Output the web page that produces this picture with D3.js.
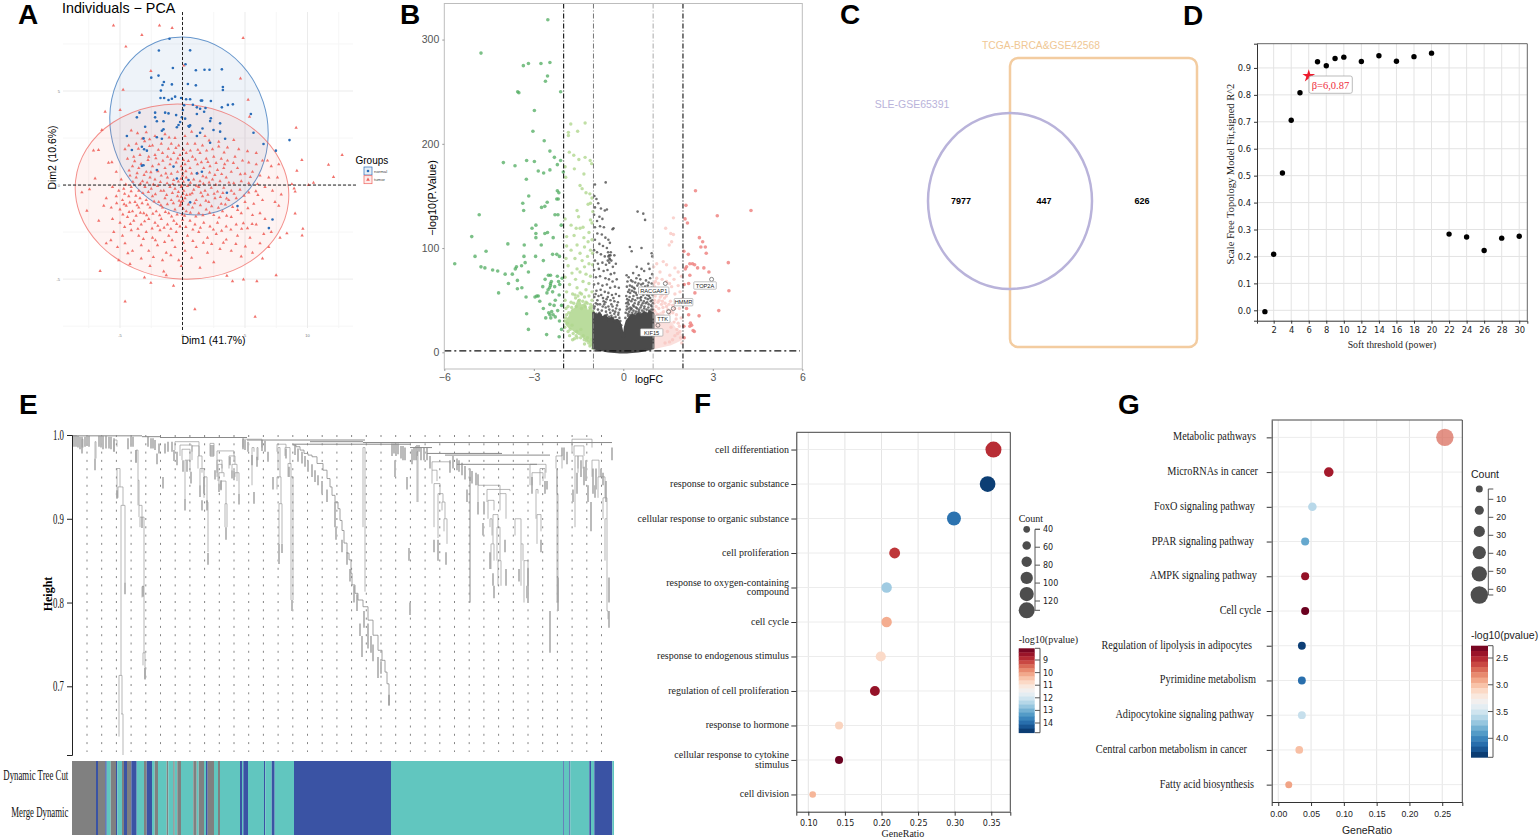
<!DOCTYPE html>
<html>
<head>
<meta charset="utf-8">
<script src="https://cdnjs.cloudflare.com/ajax/libs/d3/7.8.5/d3.min.js"></script>
<style>
html, body { margin: 0; padding: 0; background: #fff; }
svg { display: block; }
</style>
</head>
<body>
<script>
var SANS = "'Liberation Sans', Arial, sans-serif",
		SERIF = "'Liberation Serif', 'Times New Roman', serif",
		DEJAVU = "'DejaVu Sans', sans-serif";

// A - PCA, [Dim1, Dim2]
var pcaNormal = [[-1.04,7.78],[-1.89,7.15],[.61,7.16],[.24,6.42],[-.77,6.22],[1.07,6.1],[1.76,6.13],[2.16,6.13],[3.15,6.15],[-2.5,5.71],[-1.92,5.82],[-1.49,5.48],[-1.6,5.32],[-.85,5.35],[.43,5.37],[1.07,5.3],[-1.73,5.02],[3.23,5.21],[3.23,5.05],[-1.76,4.63],[-1.47,4.63],[-1.12,4.52],[-.85,4.59],[-.59,4.7],[-.11,4.63],[.29,4.56],[.61,4.56],[1.47,4.49],[1.57,4.49],[2.27,4.47],[.13,4.24],[.83,4.27],[1.15,4.13],[1.41,4.06],[1.84,4.1],[3.15,4.13],[3.63,4.26],[4.03,4.29],[.03,3.99],[-3.44,3.85],[-2.19,3.85],[-1.39,3.85],[-1.12,3.81],[1.15,3.78],[1.73,3.9],[-3.65,3.6],[-2.19,3.6],[-.51,3.72],[-.05,3.6],[.21,3.53],[2.27,3.55],[5.47,3.78],[-2.05,3.39],[-1.52,3.39],[-.19,3.35],[2.21,3.4],[3.01,3.28],[-.32,3.19],[.48,3.14],[.53,3.1],[.61,3.17],[-.45,3.07],[-2.99,3.1],[-1.52,2.96],[-1.65,2.89],[1.6,3.01],[2.48,2.93],[3.01,2.84],[5.68,2.78],[-4.45,2.61],[1.41,2.78],[1.15,2.61],[-3.12,2.48],[-2.05,2.54],[-1.65,2.46],[3.41,2.46],[2.21,2.25],[8.56,2.39],[6.48,2.18],[-3.25,2.04],[-3.07,1.9],[-4.05,1.86],[-2.85,1.83],[7.47,1.83],[-3.12,1.05],[-3.25,1.03],[-2.05,.8],[.48,.27],[1.15,.62],[1.55,.71],[3.55,-.41],[.61,-.92],[4.4,-1.12],[7.2,-1.83],[6.91,-2.29],[-.45,.35],[-.72,.98]];
var pcaTumor = [[-5.52,8.48],[-1.84,8.48],[-.83,8.35],[-3.25,7.98],[4.85,7.82],[-4.53,7.36],[-2.53,6.06],[.11,6.35],[4.64,5.66],[-4.75,5.07],[5.25,4.54],[-6.19,3.9],[-4.99,3.99],[9.09,3.05],[-6.45,2.93],[5.36,3.63],[12.77,1.6],[11.68,1.08],[12.08,.43],[10.48,.12],[10.08,0],[9.55,1.33],[9.15,.76],[8.75,.05],[8.93,-.18],[9.01,-.35],[9.01,-1.51],[9.63,-2.32],[9.57,-2.68],[8.35,-2.57],[-6.59,-4.57],[-4.59,-6.19],[.99,-6.6],[5.81,-7],[7.49,-4.79],[5.95,-5.11],[4,-5.11],[4.88,-5.02],[3.55,-4.82],[-.72,-5.35],[-2.53,-5.2],[-3.04,-4.91],[-8.05,-.39],[-7.65,-1.37],[-7.44,-.23],[-6.99,.35],[-7.12,1.84],[-6.72,1.86],[-5.92,1.19],[-5.65,1.21],
[-4.1,2.9],[-3.6,2.75],[-2.9,2.8],[-2.2,2.6],[-1.4,2.7],[-.6,2.5],[.2,2.6],[1.8,2.6],[2.9,2.3],[4.1,2.4],[-4.3,2.1],[-3.7,2.2],[-2.4,2.1],[-1.7,2.2],[-.9,2.2],[-.3,2.1],[.4,2.2],[1,2.2],[1.6,2.1],[2.4,1.9],[2.9,2.05],[3.6,2],[4.5,1.9],[5.2,1.8],[5.9,1.7],[6.8,1.3],[-4.4,1.4],[-3.9,1.5],[-3.4,1.6],[-2.7,1.5],[-2.2,1.6],[-1.6,1.7],[-1.2,1.5],[-.7,1.7],[-.2,1.6],[.3,1.7],[.8,1.5],[1.4,1.7],[1.9,1.4],[2.5,1.5],[3.1,1.4],[3.6,1.3],[4.2,1.5],[4.8,1.3],[5.3,1.2],[5.9,1.1],[6.4,1.3],[7.1,1],[7.7,1.1],[-4,1],[-3.5,.9],[-2.9,.7],[-2.4,1],[-1.9,1.1],[-1.4,.9],[-1,1.1],[-.5,1.2],[-.1,1],[.2,1.1],[.6,.9],[1.2,1.1],[1.7,.9],[2.2,1],[2.8,.8],[3.3,.9],[3.9,.7],[4.4,.9],[5,.6],[5.6,.7],[6.2,.5],[6.9,.4],[7.6,.4],[-4.9,.3],[-4.2,.5],[-3.7,.4],[-3.2,.2],[-2.6,.4],[-2.2,.3],[-1.7,.5],[-1.2,.4],[-.9,.6],[-.4,.7],[0,.5],[.3,.4],[.9,.3],[1.4,.2],[1.9,.4],[2.4,.3],[3,.2],[3.5,.4],[4.1,.1],[4.7,.2],[5.3,.1],[6,.05],[-5.6,-.1],[-4.7,-.2],[-4.1,-.1],[-3.5,-.3],[-3,-.1],[-2.5,-.2],[-2,-.05],[-1.5,-.3],[-1,-.1],[-.6,-.2],[-.1,-.1],[.1,-.3],[.4,-.05],[.9,-.25],[1.3,-.1],[1.8,-.3],[2.3,-.15],[2.8,-.35],[3.3,-.15],[3.9,-.3],[4.6,-.25],[5.3,-.4],[6.6,-.1],[7.2,-.3],[7.9,-.5],
[-6.1,-.7],[-5.3,-.6],[-4.8,-.8],[-4.3,-.6],[-3.8,-.9],[-3.4,-.7],[-2.9,-.8],[-2.4,-.6],[-1.9,-.9],[-1.4,-.7],[-.9,-.8],[-.4,-.6],[-.1,-.9],[.2,-.7],[.6,-.5],[1.1,-.8],[1.6,-.6],[2.1,-.9],[2.6,-.7],[3.1,-1],[3.7,-.8],[4.3,-.7],[5,-.9],[5.7,-1],[6.4,-.8],[7.4,-.9],[7.7,-1.1],[-5.7,-1.2],[-5,-1.3],[-4.5,-1.1],[-4,-1.4],[-3.5,-1.2],[-3.1,-1.5],[-2.6,-1.2],[-2.1,-1.4],[-1.6,-1.2],[-1.1,-1.5],[-.6,-1.3],[-.2,-1.1],[.3,-1.4],[.8,-1.2],[1.3,-1.5],[1.9,-1.3],[2.5,-1.6],[3.2,-1.4],[3.9,-1.7],[4.7,-1.5],[5.6,-1.6],[6.2,-1.5],[6.6,-1.8],[-6.7,-1.9],[-5.6,-1.8],[-5,-2],[-4.4,-1.7],[-3.9,-1.9],[-3.3,-2.1],[-2.7,-1.8],[-2.2,-2],[-1.7,-1.8],[-1.2,-2.1],[-.7,-1.9],[-.2,-2.2],[.6,-1.9],[1,-2.1],[1.7,-2],[2.2,-2.2],[2.8,-2],[3.5,-2.2],[4.3,-2.1],[5.2,-2.3],[5.9,-2.1],[6.5,-2.6],[7.1,-2.5],[7.8,-2.8],[-5.5,-2.5],[-4.8,-2.7],[-4.1,-2.4],[-3.5,-2.7],[-2.9,-2.5],[-2.4,-2.8],[-1.8,-2.4],[-1.1,-2.7],[-.5,-2.5],[.4,-2.7],[1.3,-2.5],[2,-2.8],[2.7,-2.6],[3.5,-2.9],[4.4,-2.7],[5.4,-2.8],[6.2,-3.1],[6.9,-3.3],[-6.1,-3.1],[-5.2,-3.3],[-4.6,-3.1],[-4,-3.5],[-3.3,-3.2],[-2.7,-3.5],[-2,-3.2],[-1.3,-3.6],[-.6,-3.3],[.2,-3.5],[1.1,-3.3],[2,-3.6],[3,-3.4],[3.9,-3.5],[4.7,-3.8],[5.6,-3.6],[6.4,-3.9],[-5.1,-4],[-4.2,-4.2],[-3.3,-3.9],[-2.6,-4.3],[-1.6,-4],[-.3,-4],[-.1,-4.3],[1.4,-4.4],[2.5,-4.1],[-1.5,-4.6],[-1.3,-4.8],[-4.6,1.9],[-5.3,.7],[-5.1,-.3],[-6.3,-1.1],
[-3.83,1.27],[-3.31,1.12],[-2.76,1.33],[-2.13,1.42],[-1.57,1.29],[-.93,1.37],[-.37,1.41],[.07,1.33],[.47,1.28],[1.03,1.36],[1.51,1.21],[2.03,1.23],[2.69,1.17],[3.37,1.11],[-.03,.83],[.02,.62],[-.12,.34],[.08,.18],[-.06,-.03],[.04,-.46],[-.09,-.62],[.03,-.83],[-.14,-1.03],[.05,-1.26],[-.03,-1.57],[.01,-1.84],[-4.27,.77],[-3.63,.63],[-3.07,.53],[-2.53,.68],[-1.97,.73],[-1.33,.61],[-.71,.27],[.27,.73],[.73,.61],[1.21,.63],[1.63,.47],[2.17,.67],[2.59,.53],[3.13,.58],[3.71,.13],[-4.53,.03],[-3.97,.17],[-3.37,.07],[-2.83,.13],[-2.33,.03],[-1.77,.16],[-1.23,.09],[-.77,.05],[-.33,.19],[.63,.12],[1.13,-.04],[1.67,.07],[2.13,.14],[2.67,.02],[3.23,-.42],[-4.63,-.47],[-4.11,-.33],[-3.73,-.57],[-3.17,-.43],[-2.73,-.37],[-2.17,-.49],[-1.73,-.31],[-1.27,-.53],[-.81,-.42],[-.33,-.37],[.33,-.53],[.77,-.44],[1.47,-.41],[2.03,-.52],[2.53,-.47],[3.03,-.63],[3.53,-.71],[4.13,-.47],[-5.27,-.97],[-4.67,-1.02],[-4.21,-.93],[-3.63,-1.07],[-3.23,-.97],[-2.77,-1.03],[-2.27,-.87],[-1.73,-1.07],[-1.21,-1.02],[-.73,-.97],[-.27,-.83],[.47,-1.03],[.97,-.97],[1.43,-1.07],[1.87,-.83],[2.33,-1.13],[2.87,-1.21],[3.43,-1.03],[4.01,-1.17],[-4.77,-1.57],[-4.27,-1.43],[-3.71,-1.63],[-3.37,-1.47],[-2.87,-1.61],[-2.37,-1.53],[-1.83,-1.61],[-1.37,-1.43],[-.87,-1.67],[-.43,-1.57],[.17,-1.63],[.63,-1.47],[1.07,-1.67],[1.63,-1.61],[2.17,-1.47],[2.93,-1.73],[3.53,-1.63],[4.41,-1.33],[-4.63,-2.23],[-4.17,-2.07],[-3.57,-2.33],[-3.03,-1.93],[-2.43,-2.31],[-1.97,-2.17],[-1.47,-2.27],[-.93,-2.33],[-.47,-2.07],[.27,-2.23],[.83,-2.37],[1.43,-2.27],[2.47,-2.37],[3.13,-2.43],[3.87,-2.37],[4.73,-2.33],[-3.13,-2.87],[-2.17,-2.93],[-1.43,-3.03],[-.83,-2.93],[.07,-3.07],[.83,-2.97],[1.67,-3.07],[2.33,-3.13],[3.27,-3.07],[4.27,-3.13],[5.03,-3.27],[-5.73,-2.93],[-4.37,-3.63],[-2.33,-3.83],[-.93,-3.73],[.73,-3.87],[-3.53,1.93],[-3.03,2.33],[-2.63,2.07],[-1.93,1.87],[-1.13,1.93],[-.53,1.97],[.07,1.87],[.63,1.83],[1.23,1.87],[1.93,1.83],[-2.63,2.43],[-1.07,2.53],[.73,2.83],[2.13,2.37],[-3.23,2.47],[3.33,1.73],[4.07,1.17],[4.63,.57],[5.43,.43],[5.87,-.33],[4.93,-.57],[5.23,-1.23],[6.03,-.53],[4.87,-2.03],[5.57,-2.07]];
var pcaMajorX = [-5, 0, 5, 10],
		pcaMajorY = [5, 0, -5],
		pcaMinorX = [-7.5, -2.5, 2.5, 7.5, 12.5],
		pcaMinorY = [7.5, 2.5, -2.5, -7.5];
var pcaEllipses = [
	{group: "normal", cx: .52, cy: 3.14, rx: 6.24, ry: 4.79, tilt: -18},
	{group: "tumor", cx: -.04, cy: -.35, rx: 8.56, ry: 4.65, tilt: 6}
];

// B - volcano, [logFC, -log10(P.Value)]
var strongDown = [[-2.53,319],[-4.77,287],[-3.35,275],[-3.18,277],[-2.76,277],[-2.46,278],[-2.54,265],[-2.61,260],[-3.54,250],[-3.5,249],[-2.1,250],[-2.98,232],[-3.03,212],[-2.65,203],[-2.46,193],[-2.31,187],[-4.02,182],[-3.63,179],[-3.24,184],[-2.98,183],[-2.1,184],[-2.21,180],[-2.85,174],[-2.67,172],[-2.46,175],[-2.01,173],[-3.25,166],[-2.21,155],[-2.16,153],[-3.17,150],[-2.23,147],[-2.18,147],[-2.55,144],[-3.37,143],[-2.63,140],[-2.74,139],[-3.34,136],[-4.83,132],[-2.29,132],[-2.19,132],[-2.93,122],[-3.06,119],[-2.08,122],[-2.63,114],[-2.54,115],[-2.93,114],[-2.93,110],[-5.08,111],[-2.35,110],[-3.87,104],[-3.32,103],[-2.75,103],[-4.6,97],[-4.97,92],[-5.65,85],[-4.77,82],[-4.64,81],[-4.38,79],[-4.21,78],[-3.96,75],[-3.72,75],[-3.58,82],[-3.62,80],[-3.33,92],[-3.29,86],[-3.41,83],[-2.94,92],[-2.68,88],[-2.37,94],[-2.23,94],[-2.14,92],[-2.51,74],[-2.44,74],[-2.21,73],[-3.18,77],[-3.55,69],[-3.85,66],[-4.18,57],[-3.4,62],[-3.55,61],[-3.26,53],[-2.96,53],[-2.85,54],[-2.9,54],[-2.7,63],[-2.44,66],[-2.44,64],[-2.3,63],[-2.13,65],[-2.05,71],[-2.56,57],[-2.41,68],[-2.8,49],[-2.68,42],[-2.46,46],[-2.32,45],[-2.4,39],[-2.35,36],[-2.46,36],[-2.14,30],[-2.07,45],[-3.24,37],[-3.18,22],[-2.57,17],[-2.15,15],[-2.07,22],[-2.28,50],[-2.15,55],[-2.6,33],[-2.2,40],[-2.47,62],[-2.52,60],[-2.37,58],[-2.17,68],[-2.62,70],[-2.5,38],[-2.43,33],[-2.28,34]];
var weakDown = [[-1.76,219],[-1.28,220],[-1.84,211],[-1.53,212],[-1.84,208],[-1.81,192],[-1.66,189],[-1.28,187],[-1.49,185],[-1.11,184],[-1.06,181],[-1.95,178],[-1.64,176],[-1.32,171],[-1.93,168],[-1.45,160],[-1.38,157],[-1.25,153],[-1.12,152],[-1.05,148],[-1.18,142],[-1.1,143],[-1.55,136],[-1.02,135],[-1.5,130],[-1.95,128],[-1.1,127],[-1.05,124],[-1.75,122],[-1.58,119],[-1.45,119],[-1.35,120],[-1.15,115],[-1.9,111],[-1.65,112],[-1.32,110],[-1.18,106],[-1.05,108],[-1.9,102],[-1.55,103],[-1.3,101],[-1.1,98],[-1.75,98],[-1.45,95],[-1.2,92],[-1.03,95],[-1.92,90],[-1.62,90],[-1.38,88],[-1.15,85],[-1.85,83],[-1.55,80],[-1.3,82],[-1.03,84],[-1.72,76],[-1.45,77],[-1.25,75],[-1.1,73],[-1.95,72],[-1.6,70],[-1.35,68],[-1.15,66],[-1.8,65],[-1.55,62],[-1.25,60],[-1.05,58],[-1.9,58],[-1.7,56],[-1.45,57],[-1.15,54],[-1.95,50],[-1.3,53],[-1.6,52],[-1.05,50],[-1.85,44],[-1.75,48],[-1.1,46],[-1.4,42],[-1.7,12],[-1.3,8],[-1.55,14],[-1.12,6],[-1.02,4],[-1.85,20],[-1.96,24],[-1.25,48],[-1.58,44],[-1.9,36],
[-1.97,30],[-1.92,42],[-1.88,28],[-1.83,38],[-1.78,22],[-1.73,43],[-1.68,18],[-1.66,47],[-1.62,55],[-1.58,16],[-1.52,54],[-1.47,50],[-1.43,14],[-1.4,56],[-1.36,49],[-1.31,12],[-1.28,44],[-1.23,11],[-1.21,47],[-1.16,9],[-1.12,43],[-1.08,7],[-1.04,44],[-1.01,39],[-1.93,33],[-1.8,16],[-1.72,26],[-1.64,13],[-1.56,20],[-1.42,22],[-1.34,16],[-1.2,14],[-1.06,12]];
var nsPoints = [[-.95,161],[-.59,163],[-.97,150],[-.9,147],[-.84,143],[-.75,138],[-.62,136],[-.55,137],[-.95,139],[-.8,130],[-.7,128],[-.98,132],[-.88,126],[-.78,121],[-.65,120],[-.33,119],[-.36,118],[-.95,120],[-.87,114],[-.72,113],[-.6,110],[-.5,108],[-.45,105],[-.95,108],[-.8,104],[-.68,102],[-.55,100],[-.42,96],[-.98,98],[-.88,96],[-.75,94],[-.62,92],[-.5,92],[-.46,90],[-.43,93],[-.4,88],[-.3,93],[-.95,88],[-.85,85],[-.7,86],[-.58,84],[-.47,86],[-.35,82],[-.25,85],[-.98,79],[-.82,80],[-.66,78],[-.53,79],[-.42,75],[-.3,76],[-.92,72],[-.78,73],[-.6,71],[-.48,70],[-.36,68],[-.22,70],[-.98,65],[-.84,66],[-.7,64],[-.55,65],[-.44,62],[-.28,63],[-.15,62],[-.9,59],[-.76,60],[-.62,58],[-.5,57],[-.38,55],[-.25,56],[-.14,54],[-.97,53],[-.83,54],[-.68,52],[-.56,51],[-.43,50],[-.3,49],[-.18,48],[-.92,47],[-.78,46],[-.64,46],[-.5,44],[-.36,44],[-.24,42],[-.12,41],[-.98,42],[-.85,41],[-.72,40],[-.58,39],[-.44,38],[-.3,37],[-.17,36],[-.9,37],[-.76,36],[-.62,35],[-.48,34],[-.34,33],[-.1,30],[-.07,26],[-.95,34],[-.82,33],
[-.51,96],[-.47,93],[-.45,89],[-.52,88],[-.93,56],[-.87,50],[-.74,55],[-.66,49],[-.59,43],[-.52,53],[-.47,41],[-.4,46],[-.33,52],[-.27,39],[-.21,45],[-.16,38],[-.96,44],[-.8,38],[-.69,44],[-.55,36],[-.4,35],[-.26,34],[-.13,33],[-.99,37],[-.86,46],[-.6,48],[-.35,40],
[.48,135],[.67,133],[.73,127],[.22,101],[.61,100],[.28,97],[.95,95],[.97,92],[.84,85],[.61,80],[.45,82],[.11,74],[.18,72],[.33,76],[.52,74],[.7,78],[.88,80],[.97,75],[.14,68],[.26,69],[.4,67],[.57,70],[.76,69],[.9,71],[.12,63],[.22,64],[.35,62],[.47,64],[.63,62],[.82,64],[.95,66],[.16,58],[.29,59],[.42,57],[.54,58],[.68,57],[.78,59],[.92,60],[.1,54],[.21,53],[.34,54],[.48,52],[.6,53],[.74,52],[.86,54],[.98,55],[.15,48],[.27,49],[.38,47],[.52,48],[.65,47],[.8,48],[.92,49],[.12,44],[.24,43],[.36,44],[.46,42],[.58,43],[.7,42],[.84,43],[.96,44],[.08,38],[.2,39],[.3,38],[.42,39],[.55,38],[.66,37],[.76,38],[.88,39],[.98,38],[.07,33],[.16,35],[.26,34],[.37,35],[.5,34],[.62,33],[.74,34],[.9,35],[.31,68],[.44,71],[.66,66],[.2,60],[.59,50],
[.13,51],[.18,46],[.23,57],[.25,41],[.31,51],[.33,45],[.36,58],[.4,50],[.43,43],[.45,55],[.5,46],[.53,41],[.55,61],[.57,52],[.61,45],[.63,40],[.67,55],[.69,49],[.71,44],[.72,60],[.75,47],[.78,41],[.8,55],[.82,51],[.85,46],[.86,40],[.88,58],[.9,52],[.93,45],[.94,41],[.97,50],[.99,47],[.11,41],[.15,37],[.19,50],[.22,36],[.28,42],[.34,40],[.39,37],[.47,37],[.51,39],[.6,37],[.64,36],[.69,39],[.73,37],[.79,36],[.83,37],[.87,36],[.91,37],[.95,36],[.99,41],[.1,47],[.17,42],[.29,63],[.38,61],[.51,66],[.6,65],[.73,63],[.85,67],[.94,62],[.98,60]];
var weakUp = [[1.68,129],[1.42,119],[1.59,114],[1.68,113],[1.62,106],[1.54,103],[1.12,85],[1.34,87],[1.45,84],[1.73,81],[1.84,77],[1.02,82],[1.23,77],[1.56,74],[1.12,71],[1.95,73],[1.05,63],[1.23,61],[1.62,63],[1.84,64],[1.01,56],[1.12,57],[1.3,55],[1.5,58],[1.73,56],[1.9,58],[1.05,50],[1.2,50],[1.38,52],[1.58,49],[1.8,47],[1.96,51],[1.1,44],[1.28,46],[1.45,44],[1.65,45],[1.88,42],[1.03,40],[1.35,39],[1.55,37],[1.78,36],[1.94,33],[1.15,36],[1.42,32],[1.7,29],[1.88,25],[1.25,30],[1.6,24],[1.82,18],[1.48,20],[1.92,14],
[1.03,47],[1.07,54],[1.16,48],[1.19,42],[1.24,53],[1.31,49],[1.33,43],[1.4,47],[1.44,54],[1.49,41],[1.53,46],[1.6,40],[1.66,38],[1.72,42],[1.77,32],[1.84,28],[1.02,66],[1.08,68],[1.18,66],[1.3,70],[1.45,68],[1.55,66],[1.7,70],[1.8,22],[1.73,16],[1.9,20],[1.96,9],[1.65,12],[1.4,9],[1.55,10]];
var strongUp = [[2.42,155],[2.1,141],[3.15,131],[4.28,136],[2.07,128],[2.15,124],[2.55,110],[2.66,106],[2.6,101],[2.75,101],[2.03,97],[2.18,94],[2.78,95],[2.23,85],[2.32,85],[2.39,84],[2.12,82],[2.08,80],[3.52,86],[2.49,81],[2.7,81],[2.87,77],[2.23,74],[2.04,65],[2.19,66],[3.54,59],[2.4,57],[2.07,49],[2.23,49],[2.12,42],[3.2,40],[2.19,36],[2.54,35],[2.29,26],[2.23,25],[2.34,21],[2.38,20],[2.03,25],[2.04,14],[2.25,28]];
var geneNames = ["RACGAP1", "TOP2A", "HMMR", "TTK", "KIF15"],
		geneFC = [1.41, 2.96, 1.68, 1.52, 1.16],
		geneP = [66, 70, 42, 39, 26],
		geneLabelFC = [1.02, 2.74, 2.02, 1.32, .95],
		geneLabelP = [59, 64, 48, 32, 19];
// solid bottoms of the clouds, read as outlines
var nsMassFC = [-1,-.9,-.8,-.7,-.6,-.5,-.4,-.3,-.2,-.12,-.06,-.02,.02,.06,.12,.2,.3,.4,.5,.6,.7,.8,.9,1],
		nsMassTop = [38,35,37,33,35,31,33,30,31,28,22,15,15,24,30,33,36,34,37,35,38,36,39,37],
		nsMassLow = [4,3.3,2.7,2.1,1.6,1.1,.8,.5,.3,.1,0,0,0,0,.1,.3,.5,.8,1.1,1.6,2.1,2.7,3.3,4];
var wdMassFC = [-1.9,-1.8,-1.72,-1.6,-1.5,-1.42,-1.3,-1.2,-1.1,-1],
		wdMassTop = [30,34,40,42,50,44,46,38,42,38],
		wdMassLow = [27,24,23,20,18,17,14,12,10,6];
var wuMassFC = [1, 1.15, 1.3, 1.45, 1.6, 1.75, 1.95],
		wuMassTop = [42, 36, 38, 30, 28, 22, 16],
		wuMassLow = [4, 5, 6, 7, 8, 10, 13];

// C - venn
var vennNames = ["SLE-GSE65391", "TCGA-BRCA&GSE42568"],
		vennCounts = [7977, 447, 626];

// D - soft threshold
var softPower = [1,2,3,4,5,7,8,9,10,12,14,16,18,20,22,24,26,28,30],
		softFit = [-.005,.208,.51,.706,.808,.923,.908,.935,.94,.924,.945,.925,.942,.955,.283,.272,.222,.268,.275],
		softPick = [6, .87];

// E - dendrogram: rank along the leaves, heights
var dendroBoxes = [ // left, right, merge height, left bottom, right bottom
[45,48,.96,.925,.938],[46,51,.938,.925,.916],[49,53,.916,.713,.824],[47,50,.713,.64,.667],[49,51,.667,.667,.618],
[42,45,.994,.98,.986],[64,66,.982,.967,.946],[66,67,.946,.916,.916],[67,70,.916,.902,.902],[68,72,.902,.89,.819],[70,72,.819,.806,.74],[71,73,.74,.725,.709],
[103,127,.992,.982,.975],[108,120,.988,.975,.98],[110,118,.983,.97,.97],[113,118,.97,.924,.956],[120,127,.987,.97,.975],[126,130,.975,.96,.955],[128,132,.96,.94,.948],[132,135,.95,.925,.92],[134,136,.92,.92,.86],
[145,162,.981,.95,.97],[145,150,.97,.955,.96],[146,150,.965,.945,.955],[147,152,.955,.942,.95],[149,154,.945,.935,.918],[153,155,.918,.89,.89],[157,163,.975,.96,.965],[160,165,.965,.958,.945],[163,167,.955,.95,.93],
[205,214,.989,.98,.985],[206,208,.985,.958,.95],[205,209,.95,.935,.918],[207,210,.918,.87,.87],[213,218,.985,.975,.965],[216,219,.966,.95,.95],[219,221,.95,.803,.803],
[291,293,.985,.89,.813],[345,346,.98,.92,.92],
[360,378,.968,.958,.966],[360,365,.958,.942,.945],[362,368,.942,.89,.93],[366,371,.93,.877,.92],[370,373,.92,.91,.9],[372,375,.9,.885,.87],
[398,398,.95,.8,.8],[406,428,.94,.92,.93],[415,438,.935,.92,.933],[416,422,.922,.9,.91],[418,420,.9,.89,.88],[421,426,.905,.87,.89],[419,422,.87,.84,.85],[425,428,.89,.85,.85],[426,429,.85,.82,.82],[428,434,.93,.91,.9],[443,449,.9,.88,.87],[449,451,.87,.82,.85],[452,456,.85,.8,.82],
[458,474,.965,.94,.955],[460,471,.955,.94,.945],[464,466,.935,.9,.93],[465,469,.905,.87,.885],[468,473,.96,.94,.948],[484,490,.975,.96,.96],[485,485,.96,.93,.93],[485,486,.93,.8,.8],
[500,520,.995,.98,.985],[502,512,.987,.975,.975],[503,506,.975,.89,.955],[506,511,.975,.96,.96],[520,527,.97,.95,.95],[526,533,.95,.925,.925],[531,535,.925,.9,.9],[533,535,.9,.85,.79],[535,536,.79,.79,.78],
[10,11,.995,.985,.985],[23,24,.992,.972,.972],[138,142,.99,.975,.975],[171,190,.995,.985,.985],[180,182,.985,.94,.98],[185,186,.985,.97,.97]];
var dendroRails = [[0,70,.999],[70,88,.998],[88,175,.997],[175,293,.994],[221,338,.989],[238,291,.992],[291,373,.991],[373,540,.991],[355,430,.978],[373,478,.976],[385,465,.965],[338,360,.985]];
var dendroStairRank = [221,224,228,232,236,240,245,251,255,258,260,263,266,268,270,272,275,277,279,280,283,286,291,296,301,306,310,313,315,317,317],
		dendroStairH = [.988,.986,.982,.978,.976,.974,.966,.958,.948,.938,.928,.92,.912,.898,.886,.871,.859,.851,.835,.821,.811,.803,.795,.779,.761,.743,.731,.717,.703,.689,.677];
var dendroLeaves = [[2,1,.986],[4,1,.986],[6,.999,.985],[8,.998,.983],[10,.998,.978],[13,.998,.986],[15,.998,.987],[17,.999,.986],[23,.972,.958],[27,.999,.986],[29,.999,.985],[31,.999,.983],[34,.999,.984],[37,.998,.984],[39,.998,.983],[42,.996,.98],[45,.934,.924],[53,.824,.81],[56,.996,.983],[59,.998,.986],[61,.998,.986],[64,.982,.967],[70,.902,.889],[71,.82,.807],[73,.722,.708],[76,.998,.986],[79,.996,.984],[81,.996,.984],[83,.994,.982],[85,.978,.965],[87,.99,.978],[91,.95,.936],[93,.99,.978],[96,.992,.98],[100,.992,.98],[102,.982,.969],[105,.98,.964],[111,.97,.956],[113,.924,.91],[115,.97,.956],[119,.956,.942],[128,.94,.926],[130,.922,.91],[132,.95,.93],[135,.922,.91],[136,.859,.845],[139,.988,.974],[141,.988,.974],[143,.958,.947],[147,.942,.932],[149,.946,.934],[154,.89,.875],[158,.974,.964],[160,.958,.948],[162,.958,.946],[167,.93,.917],[171,.996,.983],[173,.994,.982],[176,.992,.98],[180,.976,.964],[182,.932,.918],[185,.974,.962],[190,.994,.981],[193,.993,.98],[196,.98,.968],[201,.95,.935],[207,.87,.846],[210,.87,.859],[214,.984,.972],[217,.962,.95],[220,.803,.79],[223,.988,.976],[226,.984,.968],[230,.98,.966],[233,.975,.962],[236,.97,.956],[240,.965,.95],[243,.958,.944],[246,.952,.94],[250,.945,.93],[255,.935,.92],[263,.92,.89],[264,.89,.875],[270,.875,.86],[275,.86,.845],[278,.84,.825],[282,.82,.8],[285,.81,.79],[288,.775,.76],[290,.76,.735],[292,.79,.77],[296,.775,.745],[299,.76,.74],[301,.75,.73],[306,.735,.71],[309,.73,.715],[317,.69,.677],
[320,.99,.975],[322,.99,.978],[324,.99,.975],[326,.99,.977],[329,.987,.972],[331,.987,.97],[333,.985,.97],[323,.97,.95],[335,.95,.935],[337,.865,.85],[338,.8,.785],
[340,.983,.965],[342,.985,.97],[344,.987,.97],[345,.988,.975],[347,.988,.98],[349,.985,.97],[352,.985,.97],[355,.985,.97],[358,.975,.96],[362,.875,.86],[366,.875,.85],[374,.86,.845],
[378,.97,.955],[381,.975,.96],[385,.972,.958],[387,.97,.956],[390,.967,.952],[393,.963,.947],[395,.935,.92],[398,.96,.945],[400,.957,.942],[404,.955,.94],[406,.953,.94],[406,.92,.905],[411,.895,.88],[412,.92,.905],[418,.86,.84],[421,.835,.82],[422,.82,.805],[433,.875,.86],[434,.84,.82],[447,.84,.825],[455,.82,.805],[456,.84,.8],[460,.95,.93],[473,.945,.93],[475,.945,.935],[469,.875,.86],[478,.79,.74],[486,.83,.79],[495,.98,.965],[490,.985,.975],[492,.985,.97],[501,.935,.92],[505,.955,.93],[509,.97,.95],[512,.962,.94],[514,.97,.945],[516,.94,.92],[519,.92,.885],[521,.96,.93],[524,.96,.935],[523,.94,.925],[529,.96,.95],[531,.955,.94],[534,.945,.92],[537,.83,.8],[537,.79,.77],[540,.985,.97]];
var dendroDots = 36;
var moduleEnds = [24,26,33.3,34.7,38.7,44,45.3,50,52,55,59.3,64.7,72,74.7,80,82.7,86,94.7,96.3,101.3,102.7,105.3,109,121.3,124.7,126.7,132,134,135.7,142,146,148,168,170,171.3,176,192,193.3,199.7,202.7,222,319,491.3,492,497.3,498.3,517.3,519,522.3,540.3,542];
var moduleKinds = ["grey","blue","grey","blue","teal","grey","blue","teal","grey","blue","grey","blue","teal","grey","blue","teal","grey","teal","grey","teal","grey","teal","grey","teal","grey","teal","grey","teal","blue","grey","teal","grey","teal","blue","teal","blue","teal","blue","teal","blue","teal","blue","teal","blue","teal","blue","teal","blue","teal","blue","teal"];

// F - GO enrichment
var goTerms = ["cell differentiation","response to organic substance","cellular response to organic substance","cell proliferation","response to oxygen-containing compound","cell cycle","response to endogenous stimulus","regulation of cell proliferation","response to hormone","cellular response to cytokine stimulus","cell division"],
		goRatio = [.353,.345,.299,.218,.207,.207,.199,.191,.142,.142,.106],
		goCount = [131,128,111,81,77,77,74,71,53,53,39],
		goLogP = [8.9,14.6,13.9,9,12.6,10.2,10.8,8.5,10.7,8.1,10.3],
		goRatioTicks = [.1,.15,.2,.25,.3,.35],
		goCountKey = [40,60,80,100,120],
		goCountDots = [40,58,76,95,113,131],
		goPTicks = [9,10,11,12,13,14];

// G - KEGG enrichment
var keggTerms = ["Metabolic pathways","MicroRNAs in cancer","FoxO signaling pathway","PPAR signaling pathway","AMPK signaling pathway","Cell cycle","Regulation of lipolysis in adipocytes","Pyrimidine metabolism","Adipocytokine signaling pathway","Central carbon metabolism in cancer","Fatty acid biosynthesis"],
		keggRatio = [.254,.077,.052,.041,.041,.041,.036,.036,.036,.032,.016],
		keggCount = [64,19,13,10,10,10,9,9,9,8,4],
		keggLogP = [2.7,2.45,3.6,3.85,2.4,2.28,4.3,4.1,3.55,3,2.9],
		keggRatioTicks = [0,.05,.1,.15,.2,.25],
		keggCountKey = [10,20,30,40,50,60],
		keggCountDots = [4,16,28,40,52,64],
		keggPTicks = [2.5,3,3.5,4];

var svg = d3.select("body").append("svg")
		.attr("width", 1540)
		.attr("height", 840)
		.attr("viewBox", "0 0 1540 840");

function addText(parent, str, x, y, size, family, opts) {
	opts = opts || {};
	var t = parent.append("text")
			.attr("x", x)
			.attr("y", y)
			.attr("font-size", size)
			.attr("font-family", family)
			.attr("text-anchor", opts.anchor || "start")
			.attr("fill", opts.fill || "#000")
			.text(str);
	if(opts.bold) t.attr("font-weight", "bold");
	if(opts.rotate) t.attr("transform", "rotate(" + opts.rotate + " " + x + " " + y + ")");
	if(opts.length) t.attr("textLength", opts.length).attr("lengthAdjust", "spacingAndGlyphs");
	return t;
}

function panelLetters() {
	var letters = [["A",18,24],["B",400,24],["C",840,24],["D",1183,25],["E",19,414],["F",694,413],["G",1118,414]];
	letters.forEach(function(l) {
		addText(svg, l[0], l[1], l[2], 28, SANS, {bold: true});
	});
}

function drawPCA() {
	var g = svg.append("g");
	var x = d3.scaleLinear().domain([-9.56, 13.64]).range([63, 353]),
			y = d3.scaleLinear().domain([9.2, -7.6]).range([12, 328]);

	pcaMinorX.forEach(function(v) {
		g.append("line").attr("x1", x(v)).attr("x2", x(v)).attr("y1", 12).attr("y2", 328).attr("stroke", "#f6f6f6");
	});
	pcaMinorY.forEach(function(v) {
		g.append("line").attr("x1", 63).attr("x2", 353).attr("y1", y(v)).attr("y2", y(v)).attr("stroke", "#f6f6f6");
	});
	pcaMajorX.forEach(function(v) {
		g.append("line").attr("x1", x(v)).attr("x2", x(v)).attr("y1", 12).attr("y2", 328).attr("stroke", "#ebebeb");
		addText(g, v, x(v), 337, 4, SANS, {anchor: "middle", fill: "#777"});
	});
	pcaMajorY.forEach(function(v) {
		g.append("line").attr("x1", 63).attr("x2", 353).attr("y1", y(v)).attr("y2", y(v)).attr("stroke", "#ebebeb");
		addText(g, v, 60, y(v) + 1.5, 4, SANS, {anchor: "end", fill: "#777"});
	});

	var colors = {normal: "#2a6cb8", tumor: "#f0635c"};
	pcaEllipses.forEach(function(e) {
		var cx = x(e.cx), cy = y(e.cy);
		g.append("ellipse")
				.attr("cx", cx)
				.attr("cy", cy)
				.attr("rx", x(e.cx + e.rx) - cx)
				.attr("ry", y(e.cy - e.ry) - cy)
				.attr("transform", "rotate(" + e.tilt + " " + cx + " " + cy + ")")
				.attr("fill", colors[e.group])
				.attr("fill-opacity", .08)
				.attr("stroke", colors[e.group])
				.attr("stroke-opacity", .7)
				.attr("stroke-width", 1);
	});

	var tri = d3.symbol().type(d3.symbolTriangle).size(5);
	g.selectAll(".tumor").data(pcaTumor).join("path")
			.attr("class", "tumor")
			.attr("d", tri)
			.attr("transform", function(d) { return "translate(" + x(d[0]) + "," + y(d[1]) + ")"; })
			.attr("fill", colors.tumor)
			.attr("fill-opacity", .9);
	g.selectAll(".normal").data(pcaNormal).join("circle")
			.attr("class", "normal")
			.attr("cx", function(d) { return x(d[0]); })
			.attr("cy", function(d) { return y(d[1]); })
			.attr("r", 1.3)
			.attr("fill", colors.normal);

	g.append("line").attr("x1", 63).attr("x2", 356).attr("y1", y(0)).attr("y2", y(0))
			.attr("stroke", "#222").attr("stroke-dasharray", "3,2");
	g.append("line").attr("x1", x(0)).attr("x2", x(0)).attr("y1", 12).attr("y2", 330)
			.attr("stroke", "#222").attr("stroke-dasharray", "3,2");

	addText(g, "Individuals − PCA", 62, 13, 14.3, SANS);
	addText(g, "Dim1 (41.7%)", 213.5, 344, 10.5, SANS, {anchor: "middle"});
	addText(g, "Dim2 (10.6%)", 56, 157.5, 10.5, SANS, {anchor: "middle", rotate: -90});
	addText(g, "Groups", 355.5, 164, 10, SANS);

	g.append("rect").attr("x", 364).attr("y", 167).attr("width", 8).attr("height", 8)
			.attr("fill", "#e6eff7").attr("stroke", colors.normal).attr("stroke-width", .7);
	g.append("circle").attr("cx", 368).attr("cy", 171).attr("r", 1.3).attr("fill", colors.normal);
	g.append("rect").attr("x", 364).attr("y", 175.7).attr("width", 8).attr("height", 8)
			.attr("fill", "#fdeceb").attr("stroke", colors.tumor).attr("stroke-width", .7);
	g.append("path").attr("d", d3.symbol().type(d3.symbolTriangle).size(6)).attr("transform", "translate(368,179.7)").attr("fill", colors.tumor);
	addText(g, "normal", 374, 172.5, 4.3, SANS, {fill: "#444"});
	addText(g, "tumor", 374, 181.2, 4.3, SANS, {fill: "#444"});
}

function drawVolcano() {
	var g = svg.append("g");
	var x = d3.scaleLinear().domain([-6, 6]).range([444.3, 802.3]),
			y = d3.scaleLinear().domain([-16, 334.6]).range([369, 3.5]);

	function mass(fc, top, low, color, opacity) {
		var rows = fc.map(function(v, i) { return {fc: v, top: top[i], low: low[i]}; });
		var area = d3.area()
				.x(function(d) { return x(d.fc); })
				.y0(function(d) { return y(d.low); })
				.y1(function(d) { return y(d.top); });
		g.append("path").datum(rows)
				.attr("d", area)
				.attr("fill", color)
				.attr("stroke", color)
				.attr("stroke-width", 2.5)
				.attr("stroke-linejoin", "round")
				.attr("opacity", opacity);
	}
	function dots(rows, color, r, opacity) {
		g.selectAll(null).data(rows).join("circle")
				.attr("cx", function(d) { return x(d[0]); })
				.attr("cy", function(d) { return y(d[1]); })
				.attr("r", r)
				.attr("fill", color)
				.attr("opacity", opacity);
	}

	mass(wuMassFC, wuMassTop, wuMassLow, "#fad6d2", .75);
	dots(weakUp, "#f8c4bf", 1.7, .75);
	mass(wdMassFC, wdMassTop, wdMassLow, "#afd68d", .85);
	dots(weakDown, "#b0d78f", 1.7, .8);
	dots(nsPoints, "#4d4d4d", 1.3, .8);
	mass(nsMassFC, nsMassTop, nsMassLow, "#4a4a4a", 1);
	dots(strongDown, "#4fab5f", 1.8, .75);
	dots(strongUp, "#ee8583", 1.8, .85);

	// thresholds
	[-1, 1].forEach(function(v) {
		g.append("line").attr("x1", x(v)).attr("x2", x(v)).attr("y1", 3.5).attr("y2", 369)
				.attr("stroke", v < 0 ? "#777" : "#aaa").attr("stroke-dasharray", "5,2,1,2");
	});
	[-2, 2].forEach(function(v) {
		g.append("line").attr("x1", x(v)).attr("x2", x(v)).attr("y1", 3.5).attr("y2", 369)
				.attr("stroke", "#111").attr("stroke-width", 1.1).attr("stroke-dasharray", "5,2,1,2");
	});
	g.append("line").attr("x1", 444.3).attr("x2", 800).attr("y1", y(1.3)).attr("y2", y(1.3))
			.attr("stroke", "#111").attr("stroke-width", 1.3).attr("stroke-dasharray", "7,3,2,3");

	geneNames.forEach(function(name, i) {
		g.append("circle").attr("cx", x(geneFC[i])).attr("cy", y(geneP[i])).attr("r", 2)
				.attr("fill", "none").attr("stroke", "#555").attr("stroke-width", .7);
		var w = name.length * 3.9 + 3;
		g.append("rect")
				.attr("x", x(geneLabelFC[i]) - w / 2)
				.attr("y", y(geneLabelP[i]) - 3.8)
				.attr("width", w)
				.attr("height", 7.4)
				.attr("rx", .8)
				.attr("fill", "#fff")
				.attr("stroke", "#999")
				.attr("stroke-width", .6);
		addText(g, name, x(geneLabelFC[i]), y(geneLabelP[i]) + 2, 5.7, SANS, {anchor: "middle", fill: "#222"});
	});

	g.append("rect").attr("x", 444.3).attr("y", 3.5).attr("width", 358).attr("height", 365.5)
			.attr("fill", "none").attr("stroke", "#bdbdbd").attr("stroke-width", 1);

	var ax = g.append("g").attr("transform", "translate(0,369)")
			.call(d3.axisBottom(x).tickValues([-6, -3, 0, 3, 6]).tickSize(2).tickFormat(function(d) { return d < 0 ? "−" + (-d) : d; }));
	var ay = g.append("g").attr("transform", "translate(444.3,0)")
			.call(d3.axisLeft(y).tickValues([0, 100, 200, 300]).tickSize(2));
	[ax, ay].forEach(function(a) {
		a.select(".domain").remove();
		a.selectAll("line").attr("stroke", "#999");
		a.selectAll("text").attr("font-size", 10.5).attr("font-family", SANS).attr("fill", "#555");
	});
	addText(g, "logFC", 649, 383, 10.5, SANS, {anchor: "middle"});
	addText(g, "−log10(P.Value)", 436, 198, 10.8, SANS, {anchor: "middle", rotate: -90});
}

function drawVenn() {
	var g = svg.append("g");
	g.append("rect").attr("x", 1010).attr("y", 58).attr("width", 187).attr("height", 289).attr("rx", 8)
			.attr("fill", "none").attr("stroke", "#f3cca0").attr("stroke-width", 2.5);
	g.append("ellipse").attr("cx", 1010).attr("cy", 201).attr("rx", 82).attr("ry", 88)
			.attr("fill", "none").attr("stroke", "#b9b3da").attr("stroke-width", 2.5);
	addText(g, vennNames[0], 912, 108, 10.5, SANS, {anchor: "middle", fill: "#b9b3da"});
	addText(g, vennNames[1], 1041, 49, 10.3, SANS, {anchor: "middle", fill: "#f0c794"});
	var countX = [961, 1044, 1142];
	vennCounts.forEach(function(c, i) {
		addText(g, c, countX[i], 203.5, 9, SANS, {anchor: "middle", bold: true});
	});
}

function drawSoft() {
	var g = svg.append("g");
	var x = d3.scaleLinear().domain([.1, 30.92]).range([1257, 1527.3]),
			y = d3.scaleLinear().domain([-.0386, .99]).range([320.7, 43.7]);
	var xTicks = d3.range(2, 31, 2),
			yTicks = d3.range(0, .95, .1);

	xTicks.forEach(function(v) {
		g.append("line").attr("x1", x(v)).attr("x2", x(v)).attr("y1", 43.7).attr("y2", 320.7).attr("stroke", "#e3e3e3");
	});
	yTicks.forEach(function(v) {
		g.append("line").attr("x1", 1257).attr("x2", 1527.3).attr("y1", y(v)).attr("y2", y(v)).attr("stroke", "#e3e3e3");
	});
	g.append("path").attr("d", "M1257,43.7H1527.3V320.7").attr("fill", "none").attr("stroke", "#666");

	var ax = g.append("g").attr("transform", "translate(0,320.7)")
			.call(d3.axisBottom(x).tickValues(xTicks).tickSize(3).tickSizeOuter(3));
	var ay = g.append("g").attr("transform", "translate(1257,0)")
			.call(d3.axisLeft(y).tickValues(yTicks).tickSize(3).tickSizeOuter(3).tickFormat(d3.format(".1f")));
	[ax, ay].forEach(function(a) {
		a.selectAll("path,line").attr("stroke", "#333");
		a.selectAll("text").attr("font-size", 8.4).attr("font-family", DEJAVU).attr("fill", "#222");
	});

	g.selectAll(".fit").data(softPower).join("circle")
			.attr("class", "fit")
			.attr("cx", function(d) { return x(d); })
			.attr("cy", function(d, i) { return y(softFit[i]); })
			.attr("r", 2.7)
			.attr("fill", "#000");

	g.append("path")
			.attr("d", d3.symbol().type(d3.symbolStar).size(50))
			.attr("transform", "translate(" + x(softPick[0]) + "," + y(softPick[1]) + ")")
			.attr("fill", "#ee1c2e");
	g.append("rect").attr("x", 1309).attr("y", 76).attr("width", 43.3).attr("height", 17.3).attr("rx", 2)
			.attr("fill", "#fff").attr("stroke", "#aaa").attr("stroke-width", .8);
	addText(g, "β=" + softPick[0] + "," + softPick[1], 1330.5, 89, 10.5, SERIF, {anchor: "middle", fill: "#ee2b3c"});

	addText(g, "Soft threshold (power)", 1392, 348, 9.8, SERIF, {anchor: "middle", fill: "#222"});
	addText(g, "Scale Free Topology Model Fit,signed R^2", 1234, 174, 10.5, SERIF, {anchor: "middle", rotate: -90, fill: "#222"});
}

function drawDendro() {
	var g = svg.append("g");
	var x = d3.scaleLinear().domain([0, 542]).range([72, 614]),
			y = d3.scaleLinear().domain([1, .618]).range([435, 755]);

	d3.range(dendroDots).forEach(function(i) {
		var lx = 87 + i * 14.7;
		g.append("line").attr("x1", lx).attr("x2", lx).attr("y1", 435).attr("y2", 752)
				.attr("stroke", "#777").attr("stroke-width", .9).attr("stroke-dasharray", "2,6.3");
	});

	g.selectAll(".leaf").data(dendroLeaves).join("line")
			.attr("class", "leaf")
			.attr("x1", function(d) { return x(d[0]); })
			.attr("x2", function(d) { return x(d[0]); })
			.attr("y1", function(d) { return y(d[1]); })
			.attr("y2", function(d) { return y(d[2]); })
			.attr("stroke", "#b8b8b8")
			.attr("stroke-width", 1.9);
	g.selectAll(".box").data(dendroBoxes).join("path")
			.attr("class", "box")
			.attr("d", function(d) {
				return "M" + x(d[0]) + "," + y(d[3]) + "V" + y(d[2]) + "H" + x(d[1]) + "V" + y(d[4]);
			})
			.attr("fill", "none")
			.attr("stroke", "#999")
			.attr("stroke-width", .7);
	g.selectAll(".rail").data(dendroRails).join("line")
			.attr("class", "rail")
			.attr("x1", function(d) { return x(d[0]); })
			.attr("x2", function(d) { return x(d[1]); })
			.attr("y1", function(d) { return y(d[2]); })
			.attr("y2", function(d) { return y(d[2]); })
			.attr("stroke", "#8a8a8a")
			.attr("stroke-width", 1);
	var stair = dendroStairRank.map(function(r, i) { return [r, dendroStairH[i]]; });
	g.append("path").datum(stair)
			.attr("d", d3.line().curve(d3.curveStepAfter)
				.x(function(d) { return x(d[0]); })
				.y(function(d) { return y(d[1]); }))
			.attr("fill", "none")
			.attr("stroke", "#8a8a8a")
			.attr("stroke-width", .8);

	var ay = g.append("g").attr("transform", "translate(72,0)")
			.call(d3.axisLeft(y).tickValues([1, .9, .8, .7]).tickSize(5).tickSizeOuter(5).tickFormat(d3.format(".1f")));
	ay.selectAll("path,line").attr("stroke", "#222");
	ay.selectAll("text")
			.attr("font-size", 14)
			.attr("font-family", SERIF)
			.attr("fill", "#111")
			.attr("textLength", 11)
			.attr("lengthAdjust", "spacingAndGlyphs");
	addText(g, "Height", 52, 594, 12, SERIF, {anchor: "middle", rotate: -90, bold: true});

	var moduleColor = {grey: "#808080", blue: "#3a53a4", teal: "#61c6bf"};
	var start = 0;
	moduleEnds.forEach(function(end, i) {
		g.append("rect")
				.attr("x", x(start))
				.attr("y", 761)
				.attr("width", x(end) - x(start))
				.attr("height", 74)
				.attr("fill", moduleColor[moduleKinds[i]]);
		start = end;
	});
	addText(g, "Dynamic Tree Cut", 68.3, 779.5, 15, SERIF, {anchor: "end", length: 65, fill: "#111"});
	addText(g, "Merge Dynamic", 68.3, 817, 15, SERIF, {anchor: "end", length: 57, fill: "#111"});
}

function drawDotPlot(opts) {
	var g = svg.append("g");
	var x = d3.scaleLinear().domain(opts.xDomain).range([opts.left, opts.right]),
			y = d3.scalePoint().domain(opts.terms).range([opts.top, opts.bottom]).padding(.5),
			r = d3.scaleLinear().domain(opts.countDomain).range(opts.rRange);
	var pColor = function(v) {
		return d3.interpolateRdBu((v - opts.pDomain[0]) / (opts.pDomain[1] - opts.pDomain[0]));
	};

	opts.ratioTicks.forEach(function(v) {
		g.append("line").attr("x1", x(v)).attr("x2", x(v)).attr("y1", opts.top).attr("y2", opts.bottom).attr("stroke", "#e4e4e4");
	});
	opts.terms.forEach(function(t) {
		g.append("line").attr("x1", opts.left).attr("x2", opts.right).attr("y1", y(t)).attr("y2", y(t)).attr("stroke", "#ececec");
	});
	g.append("path")
			.attr("d", "M" + opts.left + "," + opts.top + "H" + opts.right + "V" + opts.bottom)
			.attr("fill", "none").attr("stroke", "#444").attr("stroke-width", 1);

	var ax = g.append("g").attr("transform", "translate(0," + opts.bottom + ")")
			.call(d3.axisBottom(x).tickValues(opts.ratioTicks).tickSize(4).tickSizeOuter(4).tickFormat(d3.format(".2f")));
	var ay = g.append("g").attr("transform", "translate(" + opts.left + ",0)")
			.call(d3.axisLeft(y).tickSize(5).tickSizeOuter(0).tickFormat(""));
	[ax, ay].forEach(function(a) {
		a.selectAll("path,line").attr("stroke", "#333");
	});
	ax.selectAll("text").attr("font-size", opts.tickSize).attr("font-family", opts.tickFamily).attr("fill", "#222").attr("dy", ".95em");

	opts.terms.forEach(function(t, i) {
		var lines = opts.wrap && opts.wrap[t] ? opts.wrap[t] : [t];
		lines.forEach(function(line, j) {
			var yy = y(t) + 3 + (j - (lines.length - 1) / 2) * 9.7;
			var nudge = opts.nudge ? opts.nudge[i] : 0;
			var label = addText(g, line, opts.labelX + nudge, yy, opts.labelSize, SERIF, {anchor: "end", fill: "#222"});
			if(opts.squeeze) label.attr("textLength", label.node().getComputedTextLength() * opts.squeeze).attr("lengthAdjust", "spacingAndGlyphs");
		});
	});

	g.selectAll(".dot").data(opts.terms).join("circle")
			.attr("class", "dot")
			.attr("cx", function(d, i) { return x(opts.ratio[i]); })
			.attr("cy", function(d) { return y(d); })
			.attr("r", function(d, i) { return r(opts.count[i]); })
			.attr("fill", function(d, i) { return pColor(opts.logP[i]); })
			.attr("fill-opacity", function(d, i) { return opts.ratio[i] > .2 && opts.fade ? .7 : 1; });

	addText(g, "GeneRatio", opts.titleX, opts.titleY, opts.titleSize, opts.titleFamily, {anchor: "middle", fill: "#222"});

	// count key
	addText(g, "Count", opts.keyX, opts.countTitleY, opts.titleSize, opts.titleFamily, {fill: "#222"});
	var keyY = d3.scaleLinear().domain(opts.keyDomain).range(opts.keyRange);
	var dotGap = (opts.keyEnd - opts.keyStart) / (opts.countDots.length - 1);
	opts.countDots.forEach(function(c, i) {
		g.append("circle").attr("cx", opts.keyCx).attr("cy", opts.keyStart + i * dotGap).attr("r", r(c)).attr("fill", "#4d4d4d");
	});
	g.append("path")
			.attr("d", "M" + (opts.barRight + 5) + "," + opts.keyStart + "H" + opts.barRight + "V" + opts.keyEnd + "H" + (opts.barRight + 5))
			.attr("fill", "none").attr("stroke", "#555");
	opts.countKey.forEach(function(c) {
		g.append("line").attr("x1", opts.barRight).attr("x2", opts.barRight + 5).attr("y1", keyY(c)).attr("y2", keyY(c)).attr("stroke", "#555");
		addText(g, c, opts.barRight + 8, keyY(c) + 3, opts.tickSize, opts.tickFamily, {fill: "#222"});
	});

	// colour bar
	addText(g, "-log10(pvalue)", opts.keyX, opts.pTitleY, opts.titleSize, opts.titleFamily, {fill: "#222"});
	var barY = d3.scaleLinear().domain(opts.pDomain).range(opts.barRange);
	var steps = 21,
			stepSize = (opts.pDomain[1] - opts.pDomain[0]) / steps;
	d3.range(steps).forEach(function(i) {
		var v = opts.pDomain[0] + i * stepSize;
		g.append("rect")
				.attr("x", opts.keyX)
				.attr("y", barY(v))
				.attr("width", opts.barWidth)
				.attr("height", barY(v + stepSize) - barY(v) + .4)
				.attr("fill", pColor(v + stepSize / 2));
	});
	g.append("path")
			.attr("d", "M" + (opts.barTickX - 5) + "," + opts.barRange[0] + "H" + opts.barTickX + "V" + opts.barRange[1] + "H" + (opts.barTickX - 5))
			.attr("fill", "none").attr("stroke", "#555");
	opts.pTicks.forEach(function(v) {
		g.append("line").attr("x1", opts.barTickX - 5).attr("x2", opts.barTickX).attr("y1", barY(v)).attr("y2", barY(v)).attr("stroke", "#555");
		addText(g, opts.pFormat(v), opts.barTickX + 3, barY(v) + 3, opts.tickSize, opts.tickFamily, {fill: "#222"});
	});
}

panelLetters();
drawPCA();
drawVolcano();
drawVenn();
drawSoft();
drawDendro();
drawDotPlot({
	terms: goTerms, ratio: goRatio, count: goCount, logP: goLogP,
	xDomain: [.0836, .376], left: 796.3, right: 1010.3, top: 432.3, bottom: 811.7,
	countDomain: [39, 131], rRange: [3.3, 8], pDomain: [8.07, 14.77],
	ratioTicks: goRatioTicks, labelX: 789, labelSize: 10, tickSize: 8, tickFamily: DEJAVU,
	wrap: {
		"response to oxygen-containing compound": ["response to oxygen-containing", "compound"],
		"cellular response to cytokine stimulus": ["cellular response to cytokine", "stimulus"]
	},
	titleX: 903, titleY: 837, titleSize: 10, titleFamily: SERIF,
	keyX: 1018.7, keyCx: 1026.7, countTitleY: 522, pTitleY: 643,
	countDots: goCountDots, countKey: goCountKey, keyDomain: [40, 120], keyRange: [529.3, 601],
	keyStart: 529.3, keyEnd: 610.3, barRight: 1035,
	barRange: [648.3, 732.7], barWidth: 16, barTickX: 1040, pTicks: goPTicks, pFormat: d3.format("d")
});
drawDotPlot({
	terms: keggTerms, ratio: keggRatio, count: keggCount, logP: keggLogP,
	xDomain: [-.01, .2806], left: 1271.7, right: 1462.3, top: 420, bottom: 802,
	countDomain: [4, 64], rRange: [3.5, 8.7], pDomain: [2.27, 4.355], fade: true,
	ratioTicks: keggRatioTicks, labelX: 1255, labelSize: 13, squeeze: .79, tickSize: 8.7, tickFamily: SANS,
	nudge: [1, 3, 0, -1, 2, 6, -3, 1, -1, -8, -1],
	titleX: 1367, titleY: 834, titleSize: 10.5, titleFamily: SANS,
	keyX: 1471, keyCx: 1479.3, countTitleY: 478, pTitleY: 639,
	countDots: keggCountDots, countKey: keggCountKey, keyDomain: [10, 60], keyRange: [499.3, 589.3],
	keyStart: 489, keyEnd: 595, barRight: 1488.3,
	barRange: [645.7, 757.3], barWidth: 17, barTickX: 1493, pTicks: keggPTicks, pFormat: d3.format(".1f")
});
</script>
</body>
</html>
